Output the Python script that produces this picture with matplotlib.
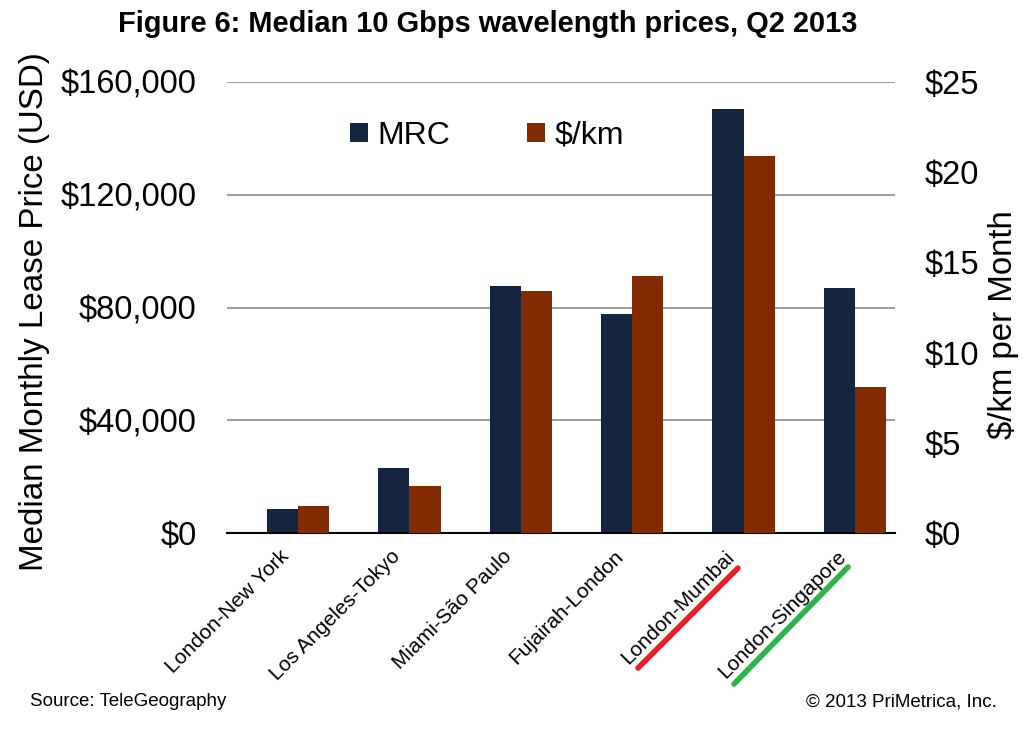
import numpy as np
import matplotlib
matplotlib.use('Agg')
import matplotlib.pyplot as plt
from matplotlib.lines import Line2D
from matplotlib.ticker import FuncFormatter

plt.rcParams['font.family'] = ['Liberation Sans', 'DejaVu Sans']

routes = ['London-New York', 'Los Angeles-Tokyo', 'Miami-São Paulo',
          'Fujairah-London', 'London-Mumbai', 'London-Singapore']
mrc = [8500, 23000, 87500, 77700, 150300, 86900]
per_km = [1.5, 2.6, 13.4, 14.25, 20.9, 8.1]

navy = '#14263F'
brown = '#832B00'

fig = plt.figure(figsize=(10.25, 7.36), dpi=100)
ax = fig.add_axes([227 / 1025, 1 - 533 / 736, 668 / 1025, 451 / 736])
ax2 = ax.twinx()

x = np.arange(len(routes))
w = 0.28
b1 = ax.bar(x - w / 2, mrc, w, color=navy, zorder=3)
b2 = ax2.bar(x + w / 2, per_km, w, color=brown, zorder=3)

# bar groups sit a bit right of the category slots, as in the original
ax.set_xlim(-0.637, 5.359)
ax.set_ylim(0, 160000)
ax2.set_ylim(0, 25)
ax.set_yticks(np.arange(0, 160001, 40000))
ax2.set_yticks(np.arange(0, 26, 5))
ax.yaxis.set_major_formatter(FuncFormatter(lambda v, p: f'${v:,.0f}'))
ax2.yaxis.set_major_formatter(FuncFormatter(lambda v, p: f'${v:.0f}'))
ax.grid(axis='y', color='#A0A0A0', lw=1.5, zorder=0)
ax.set_axisbelow(True)

for a in (ax, ax2):
    for s in ['top', 'left', 'right', 'bottom']:
        a.spines[s].set_visible(False)
ax.spines['bottom'].set_visible(True)
ax.spines['bottom'].set_color('black')
ax.spines['bottom'].set_linewidth(1.5)
ax.spines['bottom'].set_zorder(4)

ax.tick_params(axis='y', length=0, pad=22, labelsize=23.5)
ax2.tick_params(axis='y', length=0, pad=21, labelsize=23.5)
ax.set_xticks(x - 0.17)
ax.set_xticklabels(routes, rotation=45, ha='right', va='top',
                   rotation_mode='anchor', fontsize=15)
ax.tick_params(axis='x', length=0, pad=10)

ax.set_ylabel('Median Monthly Lease Price (USD)', fontsize=23.9)
ax.yaxis.set_label_coords(-0.265, 0.491)
ax2.set_ylabel('$/km per Month', fontsize=23.8)
ax2.yaxis.set_label_coords(1.139, 0.461)

fig.legend([b1, b2], ['MRC', '$/km'], loc='center',
           bbox_to_anchor=(487 / 1025, 1 - 136 / 736), ncol=2, frameon=False,
           fontsize=23, handlelength=0.55, handleheight=0.55,
           handletextpad=0.3, columnspacing=2.4)

fig.text(0.476, 1 - 24 / 736, 'Figure 6: Median 10 Gbps wavelength prices, Q2 2013',
         ha='center', va='center', fontsize=20.9, fontweight='bold')
fig.text(30 / 1025, 1 - 702 / 736, 'Source: TeleGeography', ha='left',
         va='center', fontsize=13.5)
fig.text(997 / 1025, 1 - 702 / 736, '© 2013 PriMetrica, Inc.', ha='right',
         va='center', fontsize=13.5)

# hand-drawn highlight strokes under two labels
fig.add_artist(Line2D([638 / 1025, 738 / 1025], [1 - 668 / 736, 1 - 568 / 736],
                      color='#E8202A', lw=4, solid_capstyle='round'))
fig.add_artist(Line2D([734 / 1025, 848 / 1025], [1 - 684 / 736, 1 - 567 / 736],
                      color='#2DB34A', lw=4, solid_capstyle='round'))

fig.savefig('out.png', dpi=100)
